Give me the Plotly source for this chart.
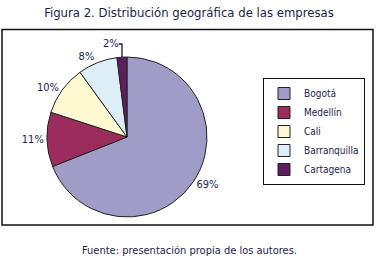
import plotly.graph_objects as go

cities = ["Bogotá", "Medellín", "Cali", "Barranquilla", "Cartagena"]
shares = [69, 11, 10, 8, 2]
colors = ["#9f9cc8", "#9b2c5c", "#fff9d2", "#ddeef6", "#5c1e5e"]

title_text = "Figura 2. Distribución geográfica de las empresas"
source_text = "Fuente: presentación propia de los autores."

W, H = 378, 261
txt_color = "#1d1d4d"
font_family = "DejaVu Sans Condensed, sans-serif"

cx, cy, r = 127, 137, 80

fig = go.Figure(go.Pie(
    labels=cities,
    values=shares,
    sort=False,
    direction="clockwise",
    rotation=0,
    marker=dict(colors=colors, line=dict(color="#222222", width=1)),
    textposition="outside",
    texttemplate="%{value}%",
    textfont=dict(family=font_family, size=11, color=txt_color),
    domain=dict(x=[(cx - r) / W, (cx + r) / W], y=[(H - cy - r) / H, (H - cy + r) / H]),
    hoverinfo="label+percent",
))

fig.update_layout(
    width=W, height=H,
    margin=dict(l=0, r=0, t=0, b=0),
    paper_bgcolor="white",
    plot_bgcolor="white",
    font=dict(family=font_family, color=txt_color),
    title=dict(text=title_text, x=0.5, xanchor="center", y=1 - 12 / H, yanchor="middle",
               font=dict(family=font_family, size=13, color=txt_color)),
    legend=dict(
        x=263 / W, xanchor="left", y=1 - 78 / H, yanchor="top",
        bordercolor="#111111", borderwidth=1,
        font=dict(family=font_family, size=10, color=txt_color),
        bgcolor="white", itemwidth=30,
    ),
    shapes=[dict(type="rect", xref="paper", yref="paper",
                 x0=2 / W, x1=373 / W, y0=1 - 225 / H, y1=1 - 29.5 / H,
                 line=dict(color="#111111", width=1.5))],
    annotations=[dict(text=source_text, x=0.5, xref="paper", y=1 - 250 / H, yref="paper",
                      xanchor="center", yanchor="middle", showarrow=False,
                      font=dict(family=font_family, size=11, color=txt_color))],
)

fig.write_html("out.html", config={"displayModeBar": False},
               post_script="document.body.style.margin='0';document.body.style.overflow='hidden';")
